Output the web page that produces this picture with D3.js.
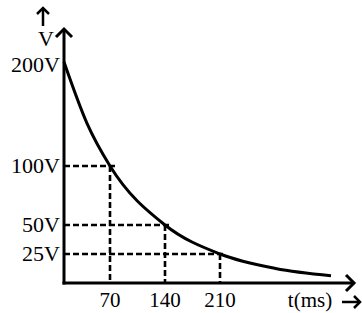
<!DOCTYPE html>
<html><head><meta charset="utf-8">
<script src="https://cdn.jsdelivr.net/npm/d3@7"></script>
<style>body{margin:0;background:#fff}svg{display:block}text{font-family:"Liberation Serif","Times New Roman",serif;fill:#000}</style>
</head><body>
<script>
// Data
const curveT = [0, 35, 70, 140, 210, 280, 350];
const curveV = [200, 141, 100, 50, 25, 12.5, 6.25];
const markT = [70, 140, 210];
const markV = [100, 50, 25];
const yTickVals = [200, 100, 50, 25];
const yTickLabels = ["200V", "100V", "50V", "25V"];
const xTickVals = [70, 140, 210];
const xTickLabels = ["70", "140", "210"];

const W = 362, H = 313;
const svg = d3.select("body").append("svg").attr("width", W).attr("height", H);

const x = d3.scaleLinear().domain([0, 70, 140, 210, 350]).range([64, 110, 165, 220, 331]);
const y = d3.scaleLinear().domain([0, 25, 50, 100, 200]).range([283, 254, 225, 166, 62]);

// dashed guides
const g = svg.append("g").attr("stroke", "#000").attr("stroke-width", 2.6).attr("stroke-dasharray", "6,3").attr("fill", "none");
markT.forEach((t, i) => {
  g.append("line").attr("x1", x(0)).attr("x2", x(t) + 6).attr("y1", y(markV[i])).attr("y2", y(markV[i]));
  g.append("line").attr("x1", x(t)).attr("x2", x(t)).attr("y1", y(markV[i])).attr("y2", y(0));
});

// curve
const pts = curveT.map((t, i) => [x(t), y(curveV[i])]);
svg.append("path").attr("d", d3.line().curve(d3.curveMonotoneX)(pts))
  .attr("fill", "none").attr("stroke", "#000").attr("stroke-width", 3);

// axes
const ax = svg.append("g").attr("stroke", "#000").attr("stroke-width", 3).attr("fill", "none");
ax.append("line").attr("x1", x(0)).attr("x2", x(0)).attr("y1", y(0) + 1.5).attr("y2", 29);
ax.append("line").attr("x1", x(0) - 1.5).attr("x2", 354).attr("y1", y(0)).attr("y2", y(0));
ax.append("path").attr("d", `M${x(0)-8},${37}L${x(0)},${29}L${x(0)+8},${37}`);
ax.append("path").attr("d", `M346,${y(0)-8}L354,${y(0)}L346,${y(0)+8}`);
// extra label arrows
ax.append("line").attr("x1", 43).attr("x2", 43).attr("y1", 26).attr("y2", 8).attr("stroke-width", 2.5);
ax.append("path").attr("d", "M37,14L43,8L49,14").attr("stroke-width", 2.5);
ax.append("line").attr("x1", 342).attr("x2", 360).attr("y1", 302).attr("y2", 302).attr("stroke-width", 2.5);
ax.append("path").attr("d", "M354,296L360,302L354,308").attr("stroke-width", 2.5);

// y labels
yTickVals.forEach((v, i) => {
  svg.append("text").attr("x", 60).attr("y", y(v) + (i === 0 ? 10 : 7)).attr("text-anchor", "end")
    .attr("font-size", 22).text(yTickLabels[i]);
});
svg.append("text").attr("x", 46).attr("y", 46).attr("text-anchor", "middle").attr("font-size", 22).text("V");

// x labels
xTickVals.forEach((t, i) => {
  svg.append("text").attr("x", x(t)).attr("y", 307).attr("text-anchor", "middle")
    .attr("font-size", 21).text(xTickLabels[i]);
});
svg.append("text").attr("x", 310).attr("y", 307).attr("text-anchor", "middle").attr("font-size", 21).text("t(ms)");
</script>
</body></html>
